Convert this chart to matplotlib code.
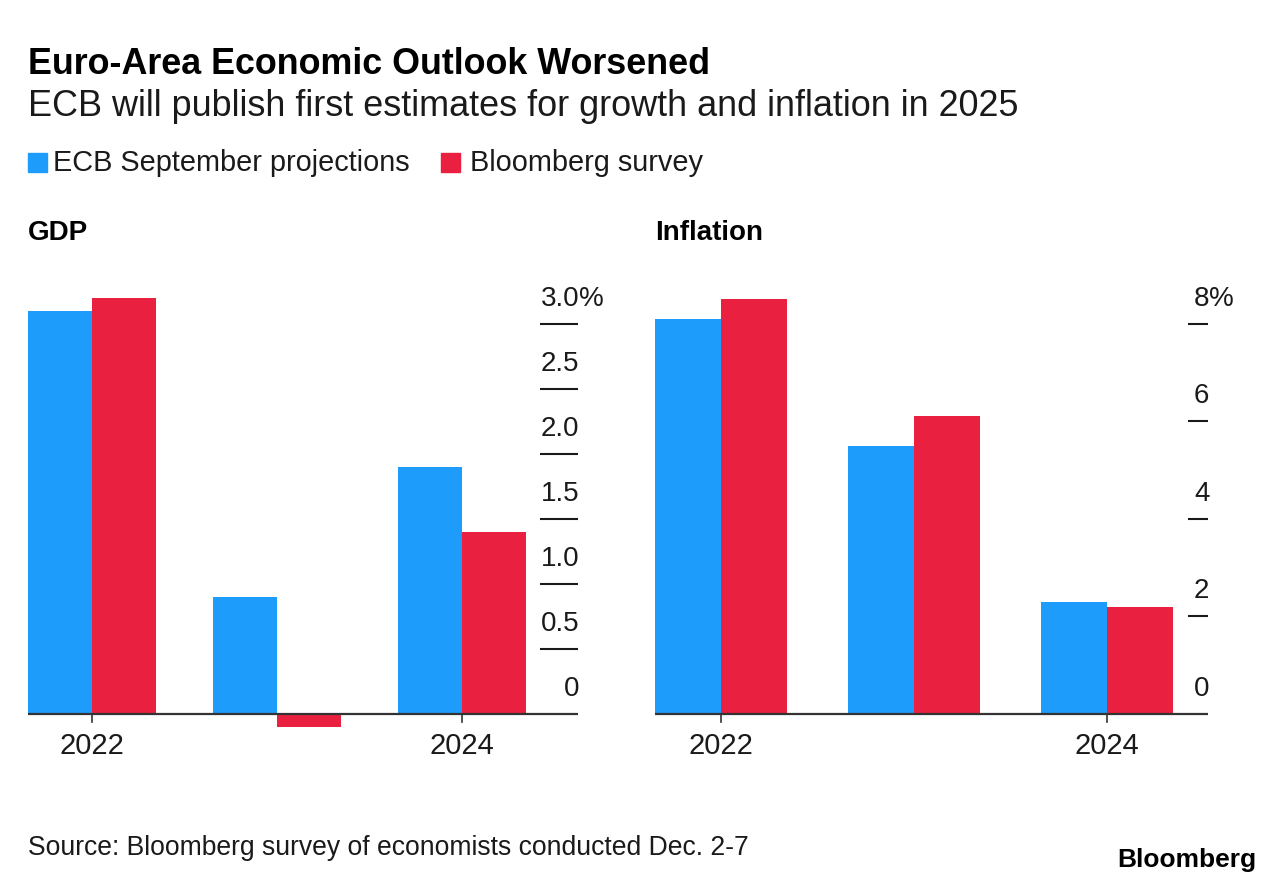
import matplotlib.pyplot as plt

plt.rcParams['font.family'] = ['Liberation Sans', 'DejaVu Sans']

years = ['2022', '2023', '2024']
gdp_ecb = [3.1, 0.9, 1.9]
gdp_bbg = [3.2, -0.1, 1.4]
infl_ecb = [8.1, 5.5, 2.3]
infl_bbg = [8.5, 6.1, 2.2]
gdp_ticks = [0, 0.5, 1.0, 1.5, 2.0, 2.5, 3.0]
gdp_ticklabels = ['0', '0.5', '1.0', '1.5', '2.0', '2.5', '3.0']
infl_ticks = [0, 2, 4, 6, 8]
infl_ticklabels = ['0', '2', '4', '6', '8']
year_ticks = [0, 2]

BLUE = '#1e9cfb'
RED = '#e9203f'
INK = '#1a1a1a'

W, H = 1284, 884
fig = plt.figure(figsize=(W / 100, H / 100), dpi=100)


def px_axes(left, right, top, bottom):
    return fig.add_axes([left / W, 1 - bottom / H, (right - left) / W, (bottom - top) / H])


def panel(ax, ecb, bbg, ticks, ticklabels, unit_px, width, xmax, tick_x0, title):
    x = list(range(len(years)))
    ax.bar([i - width / 2 for i in x], ecb, width, color=BLUE, linewidth=0)
    ax.bar([i + width / 2 for i in x], bbg, width, color=RED, linewidth=0)
    ax.set_xlim(-width, xmax)
    # zero line sits at y=714 px, axes spans 285..740 px
    ax.set_ylim(-26 / unit_px, 429 / unit_px)
    ax.axhline(0, color='#333333', lw=1.6, zorder=3)
    ax.axis('off')

    # year ticks hang from the zero line
    for t in year_ticks:
        ax.plot([t, t], [0, -7.5 / unit_px], color='#333333', lw=1.2, clip_on=False)
        ax.annotate(years[t], xy=(t, 0), xytext=(0, -28.5), textcoords='offset points',
                    ha='center', va='baseline', fontsize=21, color=INK)

    tr = ax.get_yaxis_transform()
    for v, lab in zip(ticks, ticklabels):
        if v != 0:
            ax.plot([tick_x0, 1.0], [v, v], transform=tr, color=INK, lw=1.5,
                    clip_on=False, solid_capstyle='butt')
        ax.annotate(lab, xy=(1.0, v), xycoords=tr, xytext=(1, 13),
                    textcoords='offset points', ha='right', va='baseline',
                    fontsize=20, color=INK)
        if v == ticks[-1]:
            ax.annotate('%', xy=(1.0, v), xycoords=tr, xytext=(1, 13),
                        textcoords='offset points', ha='left', va='baseline',
                        fontsize=20, color=INK)
    fig.text(ax.get_position().x0, 1 - 240 / H, title, fontsize=20,
             fontweight='bold', color='black', va='baseline')


ax1 = px_axes(28, 578, 285, 740)
panel(ax1, gdp_ecb, gdp_bbg, gdp_ticks, gdp_ticklabels, 130.1, 0.346, 2.627, 0.931, 'GDP')

ax2 = px_axes(655, 1208, 285, 740)
panel(ax2, infl_ecb, infl_bbg, infl_ticks, infl_ticklabels, 48.8, 0.342, 2.523, 0.964, 'Inflation')

fig.text(28 / W, 1 - 74 / H, 'Euro-Area Economic Outlook Worsened', fontsize=25.8,
         fontweight='bold', va='baseline')
fig.text(28 / W, 1 - 116 / H, 'ECB will publish first estimates for growth and inflation in 2025',
         fontsize=25.9, va='baseline', color=INK)

# legend
fig.patches.append(plt.Rectangle((28 / W, 1 - 172 / H), 19 / W, 19 / H,
                                 transform=fig.transFigure, color=BLUE))
fig.text(53 / W, 1 - 171 / H, 'ECB September projections', fontsize=20.8, va='baseline', color=INK)
fig.patches.append(plt.Rectangle((441 / W, 1 - 172 / H), 19 / W, 19 / H,
                                 transform=fig.transFigure, color=RED))
fig.text(470 / W, 1 - 171 / H, 'Bloomberg survey', fontsize=20.8, va='baseline', color=INK)

fig.text(28 / W, 1 - 855 / H, 'Source: Bloomberg survey of economists conducted Dec. 2-7',
         fontsize=19.1, va='baseline', color=INK)
fig.text(1256 / W, 1 - 867 / H, 'Bloomberg', fontsize=19, fontweight='bold',
         ha='right', va='baseline')

fig.savefig('out.png', dpi=100, facecolor='white')
